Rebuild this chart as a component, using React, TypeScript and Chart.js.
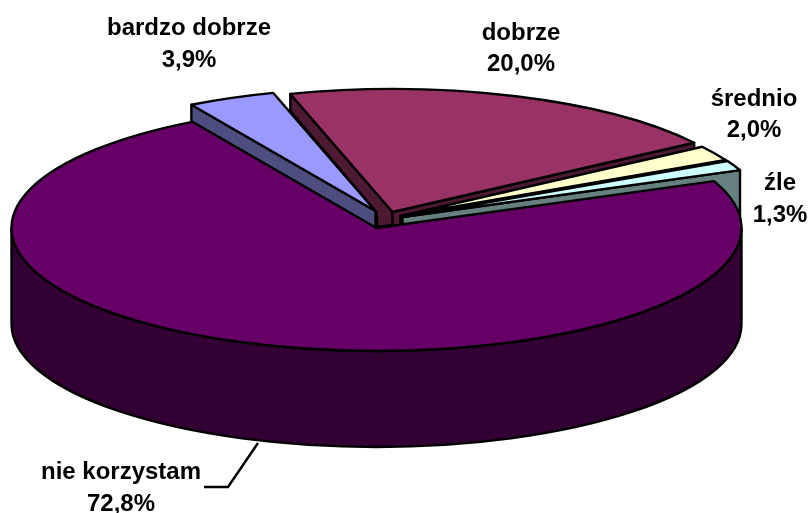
import React, { useEffect, useRef } from "react";
import { Chart, registerables } from "chart.js";

Chart.register(...registerables);

const categories = ["bardzo dobrze", "dobrze", "średnio", "źle", "nie korzystam"];
const shares = [3.9, 20.0, 2.0, 1.3, 72.8];
const topColors = ["#9999FF", "#993366", "#FFFFCC", "#CCFFFF", "#660066"];
const sideColors = ["#4D4D80", "#4D1933", "#808066", "#668080", "#330033"];

const TILT = 123 / 365;
const DEPTH = 96;
const RADIUS = 365;
const STROKE = 2.4;
const explodeShift = [
  [-1, -17],
  [16, -16],
  [24, -12],
  [26, -11],
  [0, 0],
];
// which radial faces of each slice are drawn: full extrusion, short wall, or none
const startFace = ["full", "short", "none", "none", "none"];
const endFace = ["none", "full", "full", "full", "none"];
const labelAnchors = [
  [189, 35, 67],
  [521, 40, 71],
  [754, 106, 137],
  [780, 190, 222],
  [121, 479, 511],
];
const leaderPath = [
  [258, 443],
  [228, 487],
  [204, 487],
];

const pie3d = {
  id: "pie3d",
  beforeDatasetDraw(chart: any, args: any) {
    const ctx = chart.ctx;
    const arcs = args.meta.data;
    ctx.save();
    ctx.lineJoin = "round";
    ctx.strokeStyle = "#000";
    ctx.lineWidth = STROKE;
    arcs.forEach((arc: any, i: number) => {
      const [dx, dy] = explodeShift[i];
      const cx = arc.x + dx;
      const cy = arc.y + dy;
      const r = arc.outerRadius;
      const ry = r * TILT;
      const a0 = arc.startAngle;
      const a1 = arc.endAngle;
      const px = (t: number) => cx + r * Math.cos(t);
      const py = (t: number) => cy + ry * Math.sin(t);
      ctx.fillStyle = sideColors[i];
      const face = (t: number, kind: string) => {
        if (kind === "none") return;
        ctx.beginPath();
        ctx.moveTo(px(t), py(t));
        ctx.lineTo(cx, cy);
        if (kind === "full") {
          ctx.lineTo(cx, cy + DEPTH);
          ctx.lineTo(px(t), py(t) + DEPTH);
        } else {
          ctx.lineTo(cx, cy + 13);
          ctx.lineTo(cx - 15, cy + 15);
          ctx.lineTo(cx - 16, cy);
          ctx.lineTo(px(t), py(t) + 17);
        }
        ctx.closePath();
        ctx.fill();
        ctx.stroke();
      };
      face(a0, startFace[i]);
      face(a1, endFace[i]);
      const w0 = Math.max(a0, 0);
      const w1 = Math.min(a1, Math.PI);
      if (w1 > w0) {
        ctx.beginPath();
        ctx.ellipse(cx, cy, r, ry, 0, w0, w1);
        ctx.lineTo(px(w1), py(w1) + DEPTH);
        ctx.ellipse(cx, cy + DEPTH, r, ry, 0, w1, w0, true);
        ctx.closePath();
        ctx.fill();
        ctx.stroke();
      }
      ctx.save();
      ctx.translate(cx, cy);
      ctx.scale(1, TILT);
      ctx.translate(-arc.x, -arc.y);
      arc.draw(ctx);
      ctx.restore();
      ctx.beginPath();
      ctx.moveTo(cx, cy);
      ctx.ellipse(cx, cy, r, ry, 0, a0, a1);
      ctx.closePath();
      ctx.stroke();
    });
    ctx.restore();
    return false;
  },
  afterDatasetsDraw(chart: any) {
    const ctx = chart.ctx;
    ctx.save();
    ctx.strokeStyle = "#000";
    ctx.lineWidth = STROKE;
    ctx.beginPath();
    leaderPath.forEach(([x, y], i) => (i ? ctx.lineTo(x, y) : ctx.moveTo(x, y)));
    ctx.stroke();
    ctx.fillStyle = "#000";
    ctx.font = "bold 24px 'Liberation Sans', Arial, sans-serif";
    ctx.textAlign = "center";
    ctx.textBaseline = "alphabetic";
    categories.forEach((name, i) => {
      const [x, y1, y2] = labelAnchors[i];
      ctx.fillText(name, x, y1);
      ctx.fillText(shares[i].toFixed(1).replace(".", ",") + "%", x, y2);
    });
    ctx.restore();
  },
};

export default function App() {
  const ref = useRef<HTMLCanvasElement>(null);
  useEffect(() => {
    const chart = new Chart(ref.current as HTMLCanvasElement, {
      type: "pie",
      data: {
        labels: categories,
        datasets: [
          {
            data: shares,
            backgroundColor: topColors,
            borderWidth: 0,
            clip: false,
          } as any,
        ],
      },
      options: {
        responsive: false,
        animation: false,
        radius: RADIUS,
        rotation: -30.3,
        layout: { padding: { left: 0, top: 0, right: 57, bottom: 57 } },
        plugins: { legend: { display: false }, tooltip: { enabled: false } },
      } as any,
      plugins: [pie3d],
    });
    return () => chart.destroy();
  }, []);
  return (
    <div style={{ position: "absolute", left: 0, top: 0, width: 810, height: 513, background: "#fff" }}>
      <canvas ref={ref} width={810} height={513} style={{ display: "block" }} />
    </div>
  );
}
